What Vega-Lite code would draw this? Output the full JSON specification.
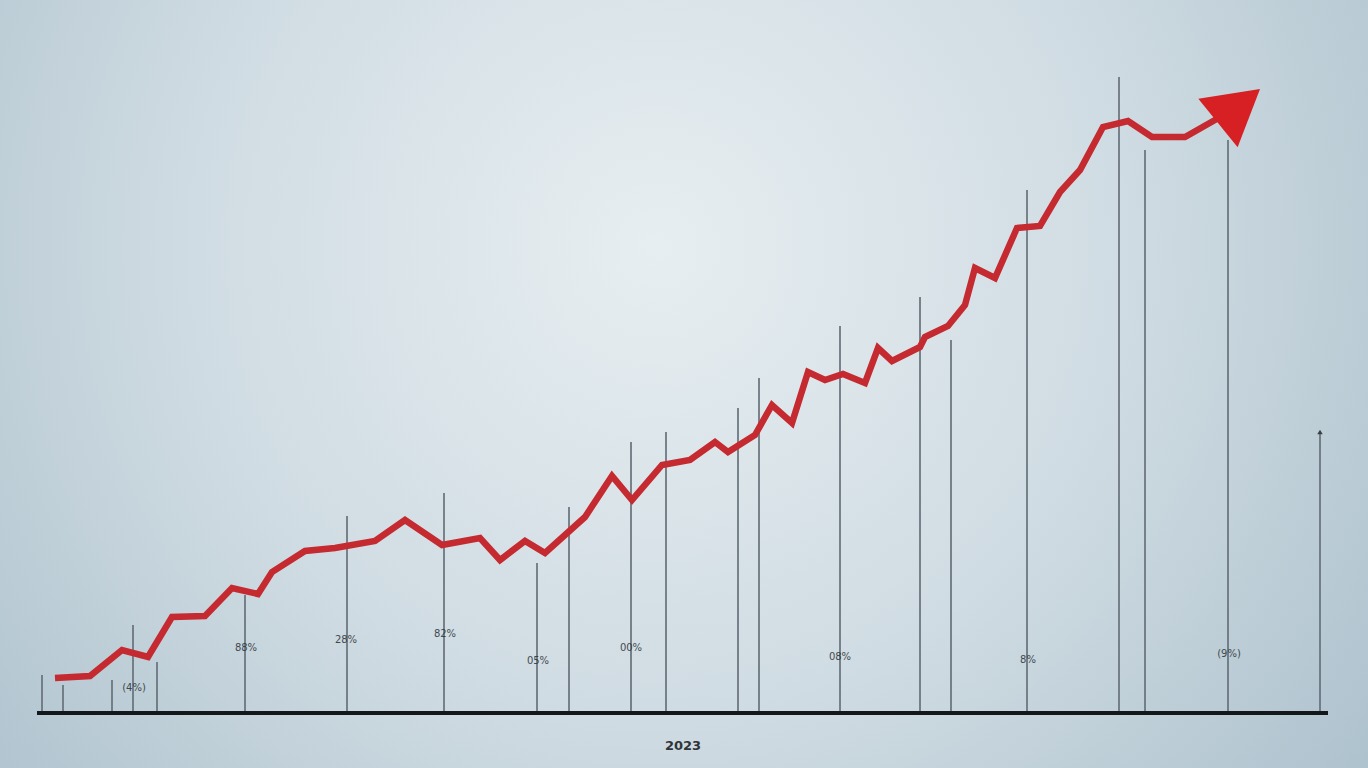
{
  "$schema": "https://vega.github.io/schema/vega-lite/v6.json",
  "width": 1368,
  "height": 768,
  "autosize": {"type": "fit", "contains": "padding"},
  "padding": 0,
  "config": {"view": {"stroke": null}, "background": "#c3d2da"},
  "datasets": {
    "trend": [
      {"i": 1, "x": 55, "y": 90}, {"i": 2, "x": 90, "y": 92}, {"i": 3, "x": 122, "y": 118},
      {"i": 4, "x": 148, "y": 111}, {"i": 5, "x": 172, "y": 151}, {"i": 6, "x": 205, "y": 152},
      {"i": 7, "x": 232, "y": 180}, {"i": 8, "x": 258, "y": 174}, {"i": 9, "x": 272, "y": 196},
      {"i": 10, "x": 305, "y": 217}, {"i": 11, "x": 335, "y": 220}, {"i": 12, "x": 375, "y": 227},
      {"i": 13, "x": 405, "y": 248}, {"i": 14, "x": 442, "y": 223}, {"i": 15, "x": 480, "y": 230},
      {"i": 16, "x": 500, "y": 208}, {"i": 17, "x": 525, "y": 227}, {"i": 18, "x": 545, "y": 215},
      {"i": 19, "x": 585, "y": 251}, {"i": 20, "x": 612, "y": 292}, {"i": 21, "x": 632, "y": 268},
      {"i": 22, "x": 662, "y": 303}, {"i": 23, "x": 690, "y": 308}, {"i": 24, "x": 715, "y": 326},
      {"i": 25, "x": 728, "y": 316}, {"i": 26, "x": 755, "y": 333}, {"i": 27, "x": 772, "y": 363},
      {"i": 28, "x": 792, "y": 345}, {"i": 29, "x": 808, "y": 396}, {"i": 30, "x": 825, "y": 388},
      {"i": 31, "x": 843, "y": 394}, {"i": 32, "x": 865, "y": 385}, {"i": 33, "x": 878, "y": 420},
      {"i": 34, "x": 892, "y": 407}, {"i": 35, "x": 920, "y": 421}, {"i": 36, "x": 925, "y": 431},
      {"i": 37, "x": 948, "y": 442}, {"i": 38, "x": 965, "y": 463}, {"i": 39, "x": 975, "y": 500},
      {"i": 40, "x": 995, "y": 490}, {"i": 41, "x": 1017, "y": 540}, {"i": 42, "x": 1040, "y": 542},
      {"i": 43, "x": 1060, "y": 576}, {"i": 44, "x": 1080, "y": 598}, {"i": 45, "x": 1103, "y": 641},
      {"i": 46, "x": 1128, "y": 647}, {"i": 47, "x": 1152, "y": 631}, {"i": 48, "x": 1185, "y": 631},
      {"i": 49, "x": 1222, "y": 652}
    ],
    "stems": [
      {"x": 42, "top": 93}, {"x": 63, "top": 83}, {"x": 112, "top": 88}, {"x": 133, "top": 143},
      {"x": 157, "top": 106}, {"x": 245, "top": 173}, {"x": 347, "top": 252}, {"x": 444, "top": 275},
      {"x": 537, "top": 205}, {"x": 569, "top": 261}, {"x": 631, "top": 326}, {"x": 666, "top": 336},
      {"x": 738, "top": 360}, {"x": 759, "top": 390}, {"x": 840, "top": 442}, {"x": 920, "top": 471},
      {"x": 951, "top": 428}, {"x": 1027, "top": 578}, {"x": 1119, "top": 691}, {"x": 1145, "top": 618},
      {"x": 1228, "top": 628}, {"x": 1320, "top": 336}
    ],
    "labels": [
      {"x": 134, "y": 80, "t": "(4%)"}, {"x": 246, "y": 120, "t": "88%"}, {"x": 346, "y": 128, "t": "28%"},
      {"x": 445, "y": 134, "t": "82%"}, {"x": 538, "y": 107, "t": "05%"}, {"x": 631, "y": 120, "t": "00%"},
      {"x": 840, "y": 111, "t": "08%"}, {"x": 1028, "y": 108, "t": "8%"}, {"x": 1229, "y": 114, "t": "(9%)"}
    ]
  },
  "layer": [
    {
      "data": {"values": [{"x0": 0, "x1": 1368, "y0": 0, "y1": 768}]},
      "mark": {
        "type": "rect",
        "fill": {
          "gradient": "radial",
          "x1": 0.48, "y1": 0.4, "r1": 0,
          "x2": 0.48, "y2": 0.4, "r2": 0.75,
          "stops": [
            {"offset": 0, "color": "#e7eef1"},
            {"offset": 0.45, "color": "#d0dce3"},
            {"offset": 1, "color": "#a2b9c6"}
          ]
        }
      },
      "encoding": {
        "x": {"field": "x0", "type": "quantitative", "scale": {"domain": [0, 1368], "nice": false, "zero": false}, "axis": null},
        "x2": {"field": "x1"},
        "y": {"field": "y0", "type": "quantitative", "scale": {"domain": [0, 768], "nice": false, "zero": false}, "axis": null},
        "y2": {"field": "y1"}
      }
    },
    {
      "data": {"name": "stems"},
      "mark": {"type": "rule", "stroke": "#66717a", "strokeWidth": 2, "opacity": 0.85},
      "encoding": {
        "x": {"field": "x", "type": "quantitative"},
        "y": {"field": "top", "type": "quantitative"},
        "y2": {"datum": 56}
      }
    },
    {
      "data": {"values": [{"x": 1320, "y": 336}]},
      "mark": {"type": "point", "shape": "triangle-up", "filled": true, "color": "#3a3f44", "size": 30, "opacity": 1},
      "encoding": {
        "x": {"field": "x", "type": "quantitative"},
        "y": {"field": "y", "type": "quantitative"}
      }
    },
    {
      "data": {"values": [{"a": 37, "b": 1328, "y": 55}]},
      "mark": {"type": "rule", "stroke": "#15181a", "strokeWidth": 4},
      "encoding": {
        "x": {"field": "a", "type": "quantitative"},
        "x2": {"field": "b"},
        "y": {"field": "y", "type": "quantitative"}
      }
    },
    {
      "data": {"name": "labels"},
      "mark": {"type": "text", "font": "DejaVu Sans", "fontSize": 10, "color": "#33393d", "opacity": 0.9},
      "encoding": {
        "x": {"field": "x", "type": "quantitative"},
        "y": {"field": "y", "type": "quantitative"},
        "text": {"field": "t"}
      }
    },
    {
      "data": {"values": [{"x": 683, "y": 22, "t": "2023"}]},
      "mark": {"type": "text", "font": "DejaVu Sans", "fontSize": 13, "fontWeight": "bold", "color": "#2f3438"},
      "encoding": {
        "x": {"field": "x", "type": "quantitative"},
        "y": {"field": "y", "type": "quantitative"},
        "text": {"field": "t"}
      }
    },
    {
      "data": {"name": "trend"},
      "mark": {"type": "line", "stroke": "#c42a2f", "strokeWidth": 6.5, "strokeJoin": "miter", "strokeCap": "butt"},
      "encoding": {
        "x": {"field": "x", "type": "quantitative"},
        "y": {"field": "y", "type": "quantitative"},
        "order": {"field": "i", "type": "quantitative"}
      }
    },
    {
      "data": {"values": [{"x": 1239, "y": 662}]},
      "mark": {"type": "point", "shape": "triangle-right", "filled": true, "color": "#d62024", "opacity": 1, "size": 3900, "angle": 321},
      "encoding": {
        "x": {"field": "x", "type": "quantitative"},
        "y": {"field": "y", "type": "quantitative"}
      }
    }
  ]
}
